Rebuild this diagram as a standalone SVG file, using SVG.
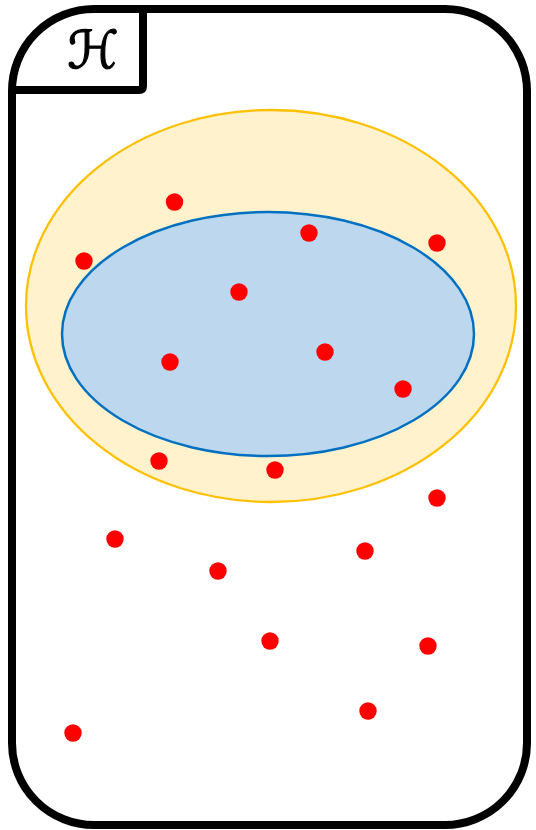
<svg xmlns="http://www.w3.org/2000/svg" width="536" height="830" viewBox="0 0 536 830">
<style>
.dot{fill:#FF0000}
.frame{fill:none;stroke:#000;stroke-width:8;stroke-linejoin:round}
</style>
<rect width="536" height="830" fill="#fff"/>
<g id="space">
<rect class="frame" x="12" y="9" width="515" height="816" rx="82" ry="82"/>
<path class="frame" d="M12 90 H139 Q143 90 143 86 V9"/>
<text x="93" y="68" font-family="DejaVu Sans, sans-serif" font-size="52" stroke="#000" stroke-width="1.2" text-anchor="middle">ℋ</text>
</g>
<g id="outer">
<ellipse cx="271" cy="306" rx="245" ry="196" fill="#FFF2CC" stroke="#FFC000" stroke-width="2.3"/>
</g>
<g id="inner">
<ellipse cx="268" cy="334" rx="206" ry="122" fill="#BDD7EE" stroke="#0070C0" stroke-width="2.5"/>
</g>
<g id="points">
<circle class="dot" cx="174.5" cy="202" r="8.7"/>
<circle class="dot" cx="309" cy="233" r="8.7"/>
<circle class="dot" cx="437" cy="243" r="8.7"/>
<circle class="dot" cx="84" cy="261" r="8.7"/>
<circle class="dot" cx="239" cy="292" r="8.7"/>
<circle class="dot" cx="170" cy="362" r="8.7"/>
<circle class="dot" cx="325" cy="352" r="8.7"/>
<circle class="dot" cx="403" cy="389" r="8.7"/>
<circle class="dot" cx="159" cy="461" r="8.7"/>
<circle class="dot" cx="275" cy="470" r="8.7"/>
<circle class="dot" cx="437" cy="498" r="8.7"/>
<circle class="dot" cx="115" cy="539" r="8.7"/>
<circle class="dot" cx="365" cy="551" r="8.7"/>
<circle class="dot" cx="218" cy="571" r="8.7"/>
<circle class="dot" cx="270" cy="641" r="8.7"/>
<circle class="dot" cx="428" cy="646" r="8.7"/>
<circle class="dot" cx="368" cy="711" r="8.7"/>
<circle class="dot" cx="73" cy="733" r="8.7"/>
</g>
</svg>
